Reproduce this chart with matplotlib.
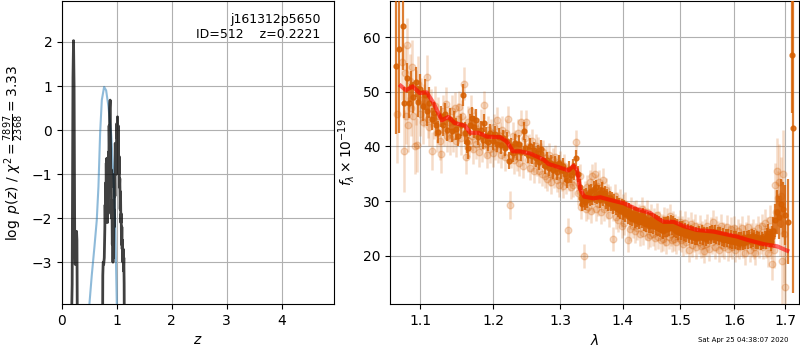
import matplotlib
matplotlib.use("Agg")
import matplotlib.pyplot as plt
from matplotlib.ticker import FixedLocator, NullLocator, FormatStrFormatter

# ---------------- left panel: redshift PDF ----------------
z_pz = [0.150, 0.185, 0.200, 0.210, 0.220, 0.232, 0.240, 0.248, 0.255, 0.265, 0.272, 0.285,
        0.50, 0.735, 0.743, 0.750, 0.760, 0.770, 0.780, 0.785, 0.790, 0.795, 0.800, 0.806,
        0.811, 0.816, 0.822, 0.828, 0.834, 0.840, 0.846, 0.852, 0.858, 0.864, 0.870, 0.877,
        0.884, 0.890, 0.897, 0.903, 0.910, 0.916, 0.922, 0.928, 0.934, 0.940, 0.946, 0.952,
        0.958, 0.964, 0.970, 0.976, 0.982, 0.988, 0.994, 1.000, 1.006, 1.011, 1.017, 1.023,
        1.029, 1.035, 1.041, 1.047, 1.053, 1.060, 1.066, 1.072, 1.078, 1.084, 1.090, 1.096,
        1.102, 1.108, 1.114, 1.120, 1.126, 1.132, 1.140, 2.0, 4.96]
logpz = [-6.0, -3.5, 1.2, 2.03, 1.0, -2.6, -3.05, -3.0, -2.35, -2.3, -2.5, -6.0,
         -9.0, -6.0, -3.3, -3.0, -3.05, -2.9, -2.25, -1.7, -2.1, -1.2, -1.8, -0.75,
         -1.4, -0.64, -1.5, -2.1, -1.1, -1.9, -0.5, -1.0, 0.1, -0.4, 0.5, 0.68,
         -0.4, -1.3, -0.9, -2.0, -1.6, -2.6, -2.2, -3.0, -2.3, -2.9, -1.8, -2.2,
         -1.0, -1.5, -0.3, -0.9, -0.5, -1.0, -0.2, 0.15, -0.2, 0.3, -0.6, 0.1,
         -0.7, -1.0, -0.6, -1.3, -1.1, -1.8, -1.4, -2.1, -1.9, -2.6, -2.2, -2.7,
         -2.5, -3.0, -2.7, -3.2, -2.9, -3.5, -6.0, -9.0, -9.0]

z_prior = [0.480, 0.500, 0.542, 0.591, 0.633, 0.664, 0.694, 0.725, 0.767, 0.804, 0.846,
           0.895, 0.938, 0.968, 0.998, 1.02]
log_prior = [-4.4, -3.94, -3.30, -2.65, -2.05, -1.28, -0.08, 0.68, 0.98, 0.90, 0.53,
             -0.08, -1.06, -2.05, -3.94, -4.6]

obj_name = "j161312p5650"
obj_id = 512
z_best = 0.2221
chi2_num, chi2_den = 7897, 2368

# ---------------- right panel: spectrum ----------------
model_wl = [1.0746, 1.0813, 1.0900, 1.0990, 1.1084, 1.1172, 1.1285, 1.1374, 1.1460, 1.1603,
            1.1673, 1.1790, 1.1908, 1.2099, 1.2196, 1.2284, 1.2391, 1.2540, 1.2740, 1.2818,
            1.2947, 1.3127, 1.3206, 1.3260, 1.3312, 1.3376, 1.3526, 1.3634, 1.3799, 1.4019,
            1.4245, 1.4473, 1.4590, 1.4705, 1.4881, 1.5060, 1.5300, 1.5610, 1.5800, 1.6050,
            1.6245, 1.6570, 1.6840, 1.7040]
model_f = [51.1, 50.3, 51.0, 49.8, 49.9, 48.0, 44.8, 45.4, 44.3, 43.8,
           42.5, 42.5, 41.8, 41.7, 40.9, 39.1, 39.1, 38.7, 37.6, 36.8,
           36.3, 35.6, 36.5, 35.7, 32.1, 30.8, 30.5, 30.7, 30.2, 29.6,
           28.5, 27.8, 26.9, 26.2, 26.2, 25.4, 24.7, 24.4, 24.0, 23.5,
           22.9, 22.1, 21.7, 20.9]

bin_wl = [1.0686, 1.0727, 1.0771,
          1.0790, 1.0820, 1.0850, 1.0880, 1.0910, 1.0940, 1.0970, 1.1000, 1.1030, 1.1060,
          1.1090, 1.1120,
          1.1150, 1.1180, 1.1210, 1.1240, 1.1270, 1.1300, 1.1330, 1.1360, 1.1390, 1.1420,
          1.1450, 1.1480, 1.1510, 1.1540, 1.1570, 1.1600, 1.1630, 1.1645, 1.1670, 1.1700,
          1.1730, 1.1760,
          1.1790, 1.1820, 1.1850, 1.1872, 1.1900, 1.1930, 1.1960, 1.1990, 1.2020, 1.2050,
          1.2080, 1.2110, 1.2140, 1.2170, 1.2200, 1.2234, 1.2260, 1.2290, 1.2320, 1.2350,
          1.2380, 1.2410, 1.2441,
          1.2470, 1.2500, 1.2530, 1.2560, 1.2590, 1.2620, 1.2650, 1.2680, 1.2710, 1.2740,
          1.2770, 1.2800, 1.2830, 1.2860, 1.2890, 1.2920, 1.2950, 1.2980, 1.3010, 1.3040,
          1.3070, 1.3100, 1.3130, 1.3160, 1.3190, 1.3220, 1.3245, 1.3270, 1.3300,
          1.3325, 1.3345, 1.3365, 1.3385, 1.3405,
          1.3425, 1.3445, 1.3465, 1.3485, 1.3505, 1.3525, 1.3545, 1.3565, 1.3585, 1.3605,
          1.3625, 1.3645, 1.3665, 1.3685, 1.3705, 1.3725, 1.3745, 1.3765, 1.3785, 1.3805,
          1.3825, 1.3845, 1.3865, 1.3885, 1.3905, 1.3925, 1.3945, 1.3965, 1.3985, 1.4005,
          1.4025, 1.4045, 1.4065, 1.4085, 1.4105, 1.4125, 1.4145, 1.4165, 1.4185, 1.4205,
          1.4225, 1.4245, 1.4265, 1.4285, 1.4305, 1.4325, 1.4345, 1.4365, 1.4385, 1.4405,
          1.4425, 1.4445, 1.4465, 1.4485, 1.4505, 1.4525, 1.4545, 1.4565, 1.4585, 1.4605,
          1.4625, 1.4645, 1.4665, 1.4685, 1.4705, 1.4725, 1.4745, 1.4765, 1.4785, 1.4805,
          1.4825, 1.4845, 1.4865, 1.4885, 1.4905, 1.4925, 1.4945, 1.4965, 1.4985, 1.5010,
          1.5035, 1.5060, 1.5085, 1.5110, 1.5135, 1.5160, 1.5185, 1.5210, 1.5235, 1.5260,
          1.5285, 1.5310, 1.5335, 1.5360, 1.5385, 1.5410, 1.5435, 1.5460, 1.5485, 1.5510,
          1.5535, 1.5560, 1.5585, 1.5610, 1.5635, 1.5660, 1.5685, 1.5710, 1.5735, 1.5760,
          1.5785, 1.5810, 1.5835, 1.5860, 1.5885, 1.5910, 1.5935, 1.5960, 1.5985, 1.6010,
          1.6035, 1.6060, 1.6085, 1.6110, 1.6135, 1.6160, 1.6185, 1.6210, 1.6235, 1.6260,
          1.6285, 1.6310, 1.6335, 1.6360, 1.6385, 1.6410, 1.6435, 1.6460, 1.6485, 1.6510,
          1.6535, 1.6560, 1.6585, 1.6610, 1.6635, 1.6660, 1.6685, 1.6710, 1.6735, 1.6760,
          1.6785, 1.6826, 1.6870, 1.6910, 1.6950, 1.6990, 1.7056, 1.7129, 1.7163]
bin_f = [54.8, 57.9, 62.0,
         48.0, 52.5, 48.0, 51.0, 49.0, 51.8, 48.2, 50.5, 47.5, 49.5,
         46.5, 48.0,
         45.0, 46.2, 44.0, 42.6, 45.5, 44.0, 46.0, 43.0, 45.0, 42.8,
         44.5, 43.2, 42.0, 44.0, 49.5, 42.5, 40.8, 39.7, 44.0, 45.2,
         43.5, 44.8,
         41.8, 43.0, 41.2, 44.3, 42.0, 40.8, 42.5, 41.0, 42.2, 40.5,
         41.8, 40.2, 41.5, 39.8, 41.0, 37.4, 40.0, 38.8, 40.6, 39.2,
         40.5, 39.0, 42.8,
         39.8, 38.5, 40.0, 38.2, 39.4, 37.8, 38.8, 37.2, 39.6, 37.5,
         36.4, 37.5, 36.0, 37.0, 35.6, 36.8, 35.4, 37.0, 35.6, 36.4,
         35.0, 33.9, 35.8, 34.8, 36.2, 35.4, 37.9, 35.0, 32.5,
         30.5, 29.5, 30.8, 29.8, 31.0,
         30.2, 31.5, 30.5, 31.8, 30.6, 32.2, 31.0, 32.5, 30.8, 31.5,
         30.2, 31.2, 32.0, 30.5, 31.4, 30.0, 30.8, 29.6, 30.5, 29.5,
         30.2, 29.0, 29.8, 28.8, 29.6, 28.5, 29.2, 28.2, 29.0, 28.0,
         28.8, 27.6, 28.5, 27.2, 28.2, 27.0, 27.8, 26.8, 27.6, 26.5,
         27.5, 26.6, 27.4, 26.2, 27.0, 26.5, 27.3, 26.0, 26.8, 25.8,
         26.6, 25.5, 26.4, 25.6, 26.5, 25.4, 26.2, 25.2, 26.0, 25.0,
         25.8, 24.8, 25.5, 24.5, 25.6, 24.9, 25.7, 24.8, 25.8, 25.0,
         26.0, 25.2, 25.9, 24.8, 25.5, 24.6, 25.3, 24.3, 25.0, 24.2,
         25.0, 24.0, 24.7, 23.8, 24.5, 23.6, 24.4, 23.5, 24.2, 23.3,
         24.0, 23.2, 24.1, 23.5, 24.3, 23.3, 24.0, 23.1, 23.9, 23.4,
         24.2, 23.5, 24.4, 23.6, 24.3, 23.4, 24.0, 23.2, 23.9, 23.0,
         23.7, 22.9, 23.6, 22.8, 23.5, 22.7, 23.4, 22.6, 23.3, 22.5,
         23.2, 22.4, 23.1, 22.3, 23.0, 22.4, 23.2, 22.5, 23.3, 22.6,
         23.4, 22.7, 23.5, 22.8, 23.4, 22.6, 23.2, 22.5, 23.1, 22.4,
         23.0, 22.6, 23.3, 22.5, 23.6, 24.2, 23.2, 22.6, 23.5, 24.5,
         26.5, 28.0, 27.0, 29.5, 28.5, 27.5, 26.2, 56.8, 43.4]
bin_e = ([12.5, 15.5, 8.0] + [2.8] * 12 + [2.0] * 22 + [1.6] * 23 + [1.5] * 29 +
         [1.4] * 84 + [1.3] * 65 +
         [1.5, 1.6, 1.6, 1.8, 2.0, 2.5, 3.0, 4.0, 4.0, 4.5, 5.0, 5.5, 7.8, 10.6, 30.3])

raw_wl = [1.0700, 1.0760, 1.0784, 1.0800, 1.0815, 1.0830, 1.0845, 1.0860, 1.0875, 1.0890,
          1.0905, 1.0925, 1.0940, 1.0955, 1.0970, 1.0990, 1.1010, 1.1030, 1.1050, 1.1084,
          1.1100, 1.1120, 1.1140, 1.1160, 1.1180, 1.1200, 1.1220, 1.1240, 1.1260, 1.1280,
          1.1300, 1.1320, 1.1340, 1.1360, 1.1380, 1.1400, 1.1420, 1.1440, 1.1460, 1.1480,
          1.1500, 1.1520, 1.1540, 1.1560, 1.1584, 1.1600, 1.1620, 1.1640, 1.1660, 1.1680,
          1.1700, 1.1720, 1.1740, 1.1760, 1.1780, 1.1800, 1.1820, 1.1840, 1.1872, 1.1890,
          1.1910, 1.1930, 1.1950, 1.1970, 1.1990, 1.2010, 1.2030, 1.2050, 1.2070, 1.2090,
          1.2110, 1.2130, 1.2150, 1.2170, 1.2190, 1.2211, 1.2244, 1.2260, 1.2280, 1.2300,
          1.2320, 1.2340, 1.2360, 1.2380, 1.2400, 1.2420, 1.2440, 1.2460, 1.2480, 1.2500,
          1.2520, 1.2540, 1.2560, 1.2580, 1.2600, 1.2620, 1.2640, 1.2660, 1.2680, 1.2700,
          1.2720, 1.2740, 1.2760, 1.2780, 1.2800, 1.2820, 1.2840, 1.2860, 1.2880, 1.2900,
          1.2920, 1.2940, 1.2960, 1.2980, 1.3000, 1.3020, 1.3040, 1.3060, 1.3080, 1.3123,
          1.3140, 1.3160, 1.3180, 1.3200, 1.3245, 1.3260, 1.3280, 1.3300, 1.3320, 1.3365,
          1.3380, 1.3400, 1.3420, 1.3440, 1.3460, 1.3480, 1.3500, 1.3520, 1.3540, 1.3560,
          1.3580, 1.3600, 1.3620, 1.3640, 1.3660, 1.3680, 1.3700, 1.3720, 1.3740, 1.3760,
          1.3780, 1.3800, 1.3835, 1.3850, 1.3870, 1.3890, 1.3910, 1.3930, 1.3950, 1.3970,
          1.3990, 1.4010, 1.4030, 1.4050, 1.4094, 1.4110, 1.4130, 1.4150, 1.4170, 1.4190,
          1.4210, 1.4230, 1.4250, 1.4270, 1.4290, 1.4310, 1.4330, 1.4350, 1.4370, 1.4390,
          1.4410, 1.4430, 1.4450, 1.4470, 1.4490, 1.4510, 1.4530, 1.4550, 1.4570, 1.4590,
          1.4610, 1.4630, 1.4650, 1.4670, 1.4690, 1.4710, 1.4730, 1.4750, 1.4770, 1.4790,
          1.4810, 1.4830, 1.4850, 1.4870, 1.4890, 1.4910, 1.4930, 1.4950, 1.4970, 1.4990,
          1.5010, 1.5030, 1.5050, 1.5070, 1.5090, 1.5110, 1.5130, 1.5150, 1.5170, 1.5190,
          1.5210, 1.5230, 1.5250, 1.5270, 1.5290, 1.5310, 1.5330, 1.5350, 1.5370, 1.5390,
          1.5410, 1.5430, 1.5450, 1.5470, 1.5490, 1.5510, 1.5530, 1.5550, 1.5570, 1.5590,
          1.5610, 1.5630, 1.5650, 1.5670, 1.5690, 1.5710, 1.5730, 1.5750, 1.5770, 1.5790,
          1.5810, 1.5830, 1.5850, 1.5870, 1.5890, 1.5910, 1.5930, 1.5950, 1.5970, 1.5990,
          1.6010, 1.6030, 1.6050, 1.6070, 1.6090, 1.6110, 1.6130, 1.6150, 1.6170, 1.6190,
          1.6210, 1.6230, 1.6250, 1.6270, 1.6290, 1.6310, 1.6330, 1.6350, 1.6370, 1.6390,
          1.6410, 1.6430, 1.6450, 1.6470, 1.6490, 1.6510, 1.6530, 1.6550, 1.6570, 1.6590,
          1.6610, 1.6630, 1.6650, 1.6670, 1.6690, 1.6710, 1.6730, 1.6750, 1.6770, 1.6790,
          1.6810, 1.6830, 1.6850, 1.6870, 1.6890, 1.6910, 1.6930, 1.6950, 1.6970, 1.7000]
raw_f = [46.0, 55.5, 39.2, 53.5, 45.5, 58.5, 44.0, 52.0, 47.0, 54.5,
         45.5, 40.0, 49.0, 40.3, 51.5, 46.0, 48.5, 44.5, 47.5, 52.7,
         45.0, 43.5, 47.0, 39.2, 44.8, 47.5, 42.5, 45.5, 41.0, 38.6,
         46.5, 43.0, 47.8, 42.0, 44.5, 41.5, 46.5, 42.0, 47.0, 41.0,
         45.0, 47.2, 41.5, 45.5, 51.5, 42.5, 38.0, 44.5, 41.0, 46.5,
         42.0, 39.5, 43.5, 40.5, 42.5, 39.0, 44.0, 40.0, 47.6, 40.5,
         38.5, 43.0, 39.5, 42.5, 38.8, 43.5, 40.0, 44.8, 39.5, 42.0,
         38.5, 43.0, 40.5, 38.0, 42.5, 45.0, 29.3, 38.5, 42.0, 37.5,
         40.5, 38.0, 42.5, 37.0, 44.4, 39.5, 36.5, 41.5, 44.4, 37.5,
         40.0, 36.0, 41.0, 37.5, 35.5, 40.0, 36.8, 39.5, 35.5, 38.5,
         35.0, 39.0, 34.5, 37.8, 34.0, 38.5, 35.0, 33.5, 37.5, 34.5,
         38.0, 33.8, 36.0, 33.0, 37.0, 34.0, 32.8, 36.5, 33.5, 24.7,
         34.0, 32.5, 35.0, 33.0, 40.9, 33.5, 31.5, 34.5, 29.0, 19.9,
         31.5, 28.5, 32.5, 29.0, 33.5, 28.2, 34.5, 30.0, 35.0, 28.5,
         32.8, 29.5, 33.5, 28.0, 31.5, 33.8, 28.5, 32.0, 29.0, 31.0,
         27.5, 30.5, 23.1, 28.5, 31.0, 27.0, 29.5, 26.5, 30.0, 27.5,
         25.5, 29.0, 26.0, 29.5, 22.8, 27.0, 24.8, 28.5, 25.5, 27.8,
         24.5, 28.0, 25.0, 27.2, 24.0, 26.5, 28.5, 24.2, 27.0, 25.0,
         28.0, 23.5, 26.0, 23.8, 27.2, 24.0, 26.5, 23.2, 25.8, 27.5,
         23.5, 26.0, 22.8, 25.5, 23.0, 26.8, 24.0, 22.5, 26.5, 23.5,
         27.2, 24.0, 22.8, 26.0, 23.0, 25.5, 22.5, 25.0, 23.2, 26.2,
         22.8, 25.0, 22.2, 24.5, 26.0, 22.5, 24.8, 21.0, 23.8, 25.8,
         22.0, 24.5, 22.8, 25.5, 21.5, 24.0, 22.5, 25.2, 21.8, 24.2,
         22.0, 20.8, 24.5, 22.2, 25.5, 23.0, 21.2, 24.8, 22.5, 26.2,
         23.0, 21.5, 25.0, 22.8, 24.2, 21.0, 23.5, 25.5, 22.0, 24.0,
         21.5, 23.8, 25.2, 21.2, 23.5, 22.0, 24.8, 21.5, 23.2, 25.0,
         21.0, 23.5, 22.0, 24.5, 21.5, 23.8, 22.2, 25.0, 21.8, 23.5,
         20.5, 24.0, 22.5, 25.2, 21.0, 23.8, 22.0, 24.5, 21.5, 20.5,
         23.8, 22.5, 25.0, 21.8, 24.0, 22.5, 25.5, 21.5, 23.5, 26.0,
         22.0, 24.5, 20.5, 23.0, 26.5, 22.2, 18.5, 24.5, 21.0, 33.0,
         28.0, 35.5, 30.5, 33.5, 26.0, 31.0, 19.0, 35.0, 24.0, 14.2]
raw_e = ([9.0, 7.0, 7.5] + [5.0] * 12 + [4.0] * 5 + [3.5] * 10 + [3.0] * 20 +
         [2.8] * 8 + [2.5] * 26 + [2.2] * 205 + [2.5] * 5 +
         [2.8, 2.8, 3.0, 3.0, 3.2, 4.0, 4.0, 6.0, 5.0, 7.0, 6.0, 7.0, 8.0, 8.0, 9.0, 12.0])

date_str = "Sat Apr 25 04:38:07 2020"
grism_color = (0.8352941176470589, 0.3686274509803922, 0.0)

# ---------------- figure ----------------
fig = plt.figure(figsize=(8, 3.5), dpi=100)

ax1 = fig.add_axes([0.0775, 0.1314, 0.3404, 0.8657])
ax1.plot(z_prior, log_prior, color='tab:blue', alpha=0.5, lw=1.5, zorder=2)
ax1.plot(z_pz, logpz, color='k', alpha=0.75, lw=2.0, zorder=3)
ax1.set_xlim(0, 4.96)
ax1.set_ylim(-3.95, 2.93)
ax1.set_xticks([0, 1, 2, 3, 4])
ax1.set_yticks([-3, -2, -1, 0, 1, 2])
ax1.grid(True)
ax1.set_axisbelow(True)
ax1.set_xlabel(r'$z$')
ax1.set_ylabel(r'$\log\ p(z)$' + ' / ' +
               r'$\chi^2=\frac{%d}{%d}=%.2f$' % (chi2_num, chi2_den, chi2_num / chi2_den))
ax1.text(0.95, 0.96, '{0}\nID={1:<5d}  z={2:.4f}'.format(obj_name, obj_id, z_best),
         ha='right', va='top', transform=ax1.transAxes, fontsize=9)

ax2 = fig.add_axes([0.4879, 0.1314, 0.5108, 0.8657])
ax2.errorbar(raw_wl, raw_f, raw_e, fmt='o', color=grism_color, alpha=0.22, ms=4.8,
             elinewidth=1.8, capsize=0, zorder=1)
ax2.plot(model_wl, model_f, color='r', alpha=0.6, lw=3, zorder=10)
ax2.errorbar(bin_wl, bin_f, bin_e, fmt='o', color=grism_color, alpha=0.8, ms=3.5,
             elinewidth=1.6, capsize=0, zorder=5)
ax2.set_xscale('log')
ax2.set_xlim(1.0613, 1.728)
ax2.set_ylim(11.14, 66.64)
ax2.xaxis.set_major_locator(FixedLocator([1.1, 1.2, 1.3, 1.4, 1.5, 1.6, 1.7]))
ax2.xaxis.set_major_formatter(FormatStrFormatter('%.1f'))
ax2.xaxis.set_minor_locator(NullLocator())
ax2.set_yticks([20, 30, 40, 50, 60])
ax2.grid(True)
ax2.set_axisbelow(True)
ax2.set_xlabel(r'$\lambda$')
ax2.set_ylabel(r'$f_\lambda\times10^{-19}$')

fig.text(0.985, 0.02, date_str, ha='right', va='bottom', fontsize=5)

fig.savefig('out.png', dpi=100)
